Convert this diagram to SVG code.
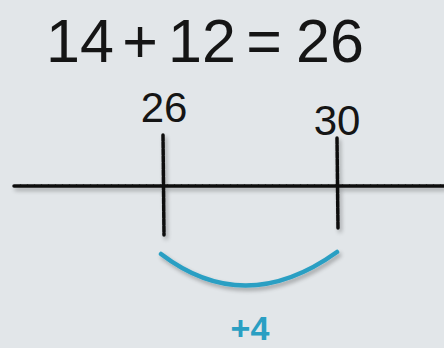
<svg xmlns="http://www.w3.org/2000/svg" width="444" height="348" viewBox="0 0 444 348">
<defs>
<filter id="sh" x="-10%" y="-20%" width="120%" height="160%">
<feGaussianBlur in="SourceAlpha" stdDeviation="2"/>
<feOffset dx="2" dy="3" result="b"/>
<feComponentTransfer><feFuncA type="linear" slope="0.3"/></feComponentTransfer>
<feMerge><feMergeNode/><feMergeNode in="SourceGraphic"/></feMerge>
</filter>
<style>
.t{font-family:"Liberation Sans",Arial,sans-serif;fill:#151515}
.eq{font-size:61px;text-anchor:middle}
.ink{stroke:#111;stroke-width:3.5;stroke-linecap:round;fill:none;stroke-dasharray:6 1}
.blue{stroke:#2a9fc3;stroke-width:4.5;stroke-linecap:round;fill:none}
</style>
</defs>
<rect width="444" height="348" fill="#e2e6e9"/>
<g id="equation">
<text class="t eq" x="80" y="62">14</text>
<text class="t eq" x="140" y="62">+</text>
<text class="t eq" x="202" y="62">12</text>
<text class="t eq" x="264" y="62">=</text>
<text class="t eq" x="330" y="62">26</text>
</g>
<g id="connectors" filter="url(#sh)">
<line class="ink" x1="14" y1="186" x2="444" y2="186"/>
<line class="ink" x1="163" y1="135" x2="164" y2="235"/>
<line class="ink" x1="337" y1="138" x2="338" y2="228"/>
<path class="blue" d="M161,254 Q245,318 337,252"/>
</g>
<g id="label26"><text class="t" x="164" y="122" font-size="42" text-anchor="middle">26</text></g>
<g id="label30"><text class="t" x="337" y="135" font-size="42" text-anchor="middle">30</text></g>
<g id="plus4"><text x="250" y="340" font-size="34" text-anchor="middle" font-family="Liberation Sans,Arial,sans-serif" font-weight="bold" fill="#2a9fc3">+4</text></g>
</svg>
